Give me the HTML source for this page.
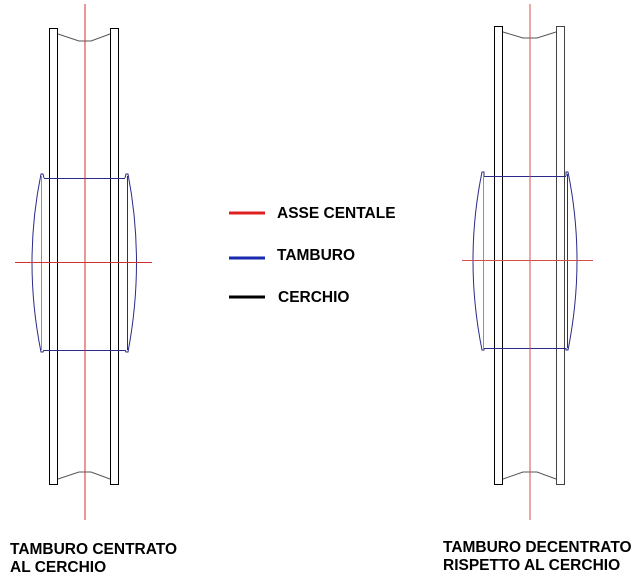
<!DOCTYPE html>
<html><head><style>
body{margin:0;background:#fff;}
svg{display:block}
text{font-family:"Liberation Sans",Arial,sans-serif;font-weight:bold;font-size:15.5px;fill:#000}
</style></head><body>
<svg width="640" height="584" viewBox="0 0 640 584" xmlns="http://www.w3.org/2000/svg">
<!-- LEFT WHEEL -->
<g fill="none" stroke="#000" stroke-width="1">
<rect x="49.5" y="28.5" width="8" height="456"/>
<rect x="110.5" y="28.5" width="8" height="456"/>
<polyline points="58,34 79,41 91,41 110,34" stroke="#555"/>
<polyline points="58,479 79,472 91,472 110,479" stroke="#555"/>
</g>
<g fill="none" stroke="#2a2a8a" stroke-width="1">
<line x1="44" y1="178.5" x2="125" y2="178.5"/>
<line x1="44" y1="350.5" x2="125" y2="350.5"/>
<path d="M44,178 L43,174 L41,174 Q23,262 41,352 L43,352 L44,350"/>
<line x1="41.5" y1="176" x2="41.5" y2="350" stroke="#8888cc"/>
<path d="M125,178 L126,174 L128,174 Q145,262 128,352 L126,352 L125,350"/>
<line x1="127.5" y1="176" x2="127.5" y2="350"/>
</g>
<g stroke="#d03030" stroke-width="1">
<line x1="85" y1="4" x2="85" y2="520"/>
<line x1="15" y1="262.5" x2="152" y2="262.5"/>
</g>
<!-- RIGHT WHEEL -->
<g fill="none" stroke="#000" stroke-width="1">
<rect x="494.5" y="26.5" width="8" height="458"/>
<rect x="556.5" y="26.5" width="8" height="458" stroke="#444"/>
<polyline points="503,32 523,38 537,38 556,32" stroke="#555"/>
<polyline points="503,479 523,472 537,472 556,479" stroke="#555"/>
</g>
<g fill="none" stroke="#2a2a8a" stroke-width="1">
<line x1="484" y1="176.5" x2="566" y2="176.5"/>
<line x1="484" y1="348.5" x2="566" y2="348.5"/>
<path d="M484,176 L484,172 L482,172 Q464,260 482,350 L484,350 L484,348"/>
<line x1="483.5" y1="174" x2="483.5" y2="348" stroke="#8888cc"/>
<path d="M566,176 L566,172 L568,172 Q586,260 568,350 L566,350 L566,348"/>
<line x1="567.5" y1="174" x2="567.5" y2="348"/>
</g>
<g stroke="#d05050" stroke-width="1">
<line x1="530" y1="4" x2="530" y2="520"/>
<line x1="462" y1="260.5" x2="593" y2="260.5"/>
</g>
<!-- LEGEND -->
<line x1="229" y1="213" x2="265" y2="213" stroke="#e02020" stroke-width="3"/>
<line x1="229" y1="258" x2="265" y2="258" stroke="#1a2ab0" stroke-width="3"/>
<line x1="229" y1="297" x2="265" y2="297" stroke="#000" stroke-width="3"/>
<text x="277" y="218">ASSE CENTALE</text>
<text x="277" y="260">TAMBURO</text>
<text x="278" y="302">CERCHIO</text>
<!-- CAPTIONS -->
<text x="10" y="554">TAMBURO CENTRATO</text>
<text x="10" y="572">AL CERCHIO</text>
<text x="443" y="552">TAMBURO DECENTRATO</text>
<text x="443" y="570">RISPETTO AL CERCHIO</text>
</svg>
</body></html>
